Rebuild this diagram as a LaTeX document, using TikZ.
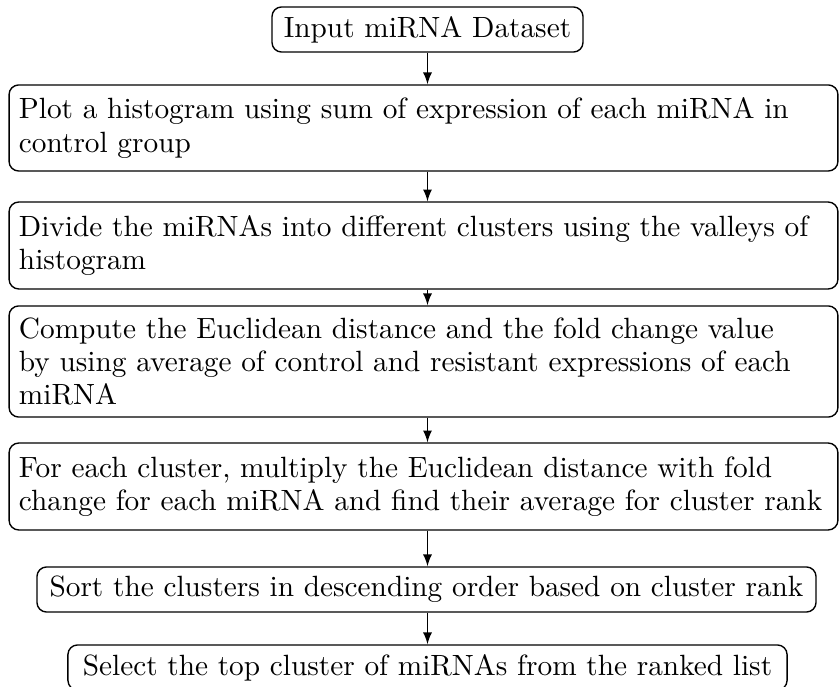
\documentclass[tikz,border=0pt]{standalone}
\usetikzlibrary{arrows}
\begin{document}
\begin{tikzpicture}[x=0.363636pt, y=-0.363636pt,
  font=\fontsize{10.65pt}{12.1pt}\selectfont,
  stepbox/.style={draw, line width=0.5pt, rounded corners=3.5pt,
    inner xsep=3.6pt, inner ysep=0pt},
  widebox/.style={stepbox, text width=294.2pt, align=left},
  shortbox/.style={stepbox, align=center, minimum height=16.4pt},
  flow/.style={-latex, line width=0.5pt}]
  \useasboundingbox (0,0) rectangle (839,687);

  \node[shortbox, minimum width=113.1pt] (b1) at (427.5,29.5) {Input miRNA Dataset};

  \node[widebox, minimum height=31.3pt] (b2) at (423.5,128)
    {Plot a histogram using sum of expression of each miRNA in\\control group};

  \node[widebox, minimum height=31.6pt] (b3) at (423.5,245.5)
    {Divide the miRNAs into different clusters using the valleys of\\histogram};

  \node[widebox, minimum height=40.4pt] (b4) at (423.5,361.5)
    {Compute the Euclidean distance and the fold change value\\by using average of control and resistant expressions of each\\miRNA};

  \node[widebox, minimum height=31.6pt] (b5) at (423.5,486.5)
    {For each cluster, multiply the Euclidean distance with fold\\change for each miRNA and find their average for cluster rank};

  \node[shortbox, minimum width=283.3pt] (b6) at (426.5,589.5)
    {Sort the clusters in descending order based on cluster rank};

  \node[shortbox, minimum width=261.5pt] (b7) at (427.5,667.5)
    {Select the top cluster of miRNAs from the ranked list};

  \draw[flow] (b1.south) -- (b2.north -| b1.south);
  \draw[flow] (b2.south -| b1.south) -- (b3.north -| b1.south);
  \draw[flow] (b3.south -| b1.south) -- (b4.north -| b1.south);
  \draw[flow] (b4.south -| b1.south) -- (b5.north -| b1.south);
  \draw[flow] (b5.south -| b1.south) -- (b6.north -| b1.south);
  \draw[flow] (b6.south -| b1.south) -- (b7.north -| b1.south);
\end{tikzpicture}
\end{document}
